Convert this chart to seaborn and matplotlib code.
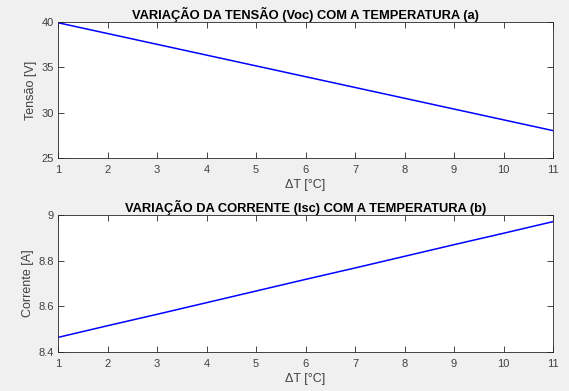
import matplotlib
matplotlib.use("Agg")
import matplotlib.pyplot as plt
import matplotlib.ticker as mticker
import seaborn as sns
import pandas as pd

# Temperature rise and module parameters
delta_t = [1, 2, 3, 4, 5, 6, 7, 8, 9, 10, 11]
voc = [39.92, 38.73, 37.54, 36.35, 35.16, 33.97, 32.78, 31.59, 30.40, 29.21, 28.02]
isc = [8.464, 8.515, 8.565, 8.616, 8.667, 8.718, 8.768, 8.819, 8.870, 8.920, 8.971]

titles = ["VARIAÇÃO DA TENSÃO (Voc) COM A TEMPERATURA (a)",
          "VARIAÇÃO DA CORRENTE (Isc) COM A TEMPERATURA (b)"]
ylabels = ["Tensão [V]", "Corrente [A]"]
xlabel = "ΔT [°C]"
yticks = [[25, 30, 35, 40], [8.4, 8.6, 8.8, 9.0]]
ylims = [(25, 40), (8.4, 9.0)]

sns.set_style("ticks")
plt.rcParams["font.family"] = ["Liberation Sans", "DejaVu Sans"]

df = pd.DataFrame({"dT": delta_t, "Voc": voc, "Isc": isc})

fig = plt.figure(figsize=(5.69, 3.91), dpi=100, facecolor="#F0F0F0")
W, H = 569, 391
boxes = [(58, 22, 553, 158), (58, 215, 553, 352)]
cols = ["Voc", "Isc"]
axis_col = "#262626"
label_col = "#404040"

for i, (x0, y0, x1, y1) in enumerate(boxes):
    ax = fig.add_axes([x0 / W, 1 - y1 / H, (x1 - x0) / W, (y1 - y0) / H])
    sns.lineplot(data=df, x="dT", y=cols[i], ax=ax, color="#0000FF", linewidth=1.1)
    ax.set_xlim(1, 11)
    ax.set_ylim(*ylims[i])
    ax.set_xticks(delta_t)
    ax.set_yticks(yticks[i])
    ax.yaxis.set_major_formatter(mticker.FormatStrFormatter("%g"))
    ax.tick_params(direction="in", top=True, right=True, length=4, width=0.6,
                   color=axis_col, labelcolor=label_col, labelsize=8)
    ax.tick_params(axis="x", pad=5)
    ax.tick_params(axis="y", pad=3)
    for s in ax.spines.values():
        s.set_color(axis_col)
        s.set_linewidth(0.6)
        s.set_visible(True)
    ax.set_facecolor("white")
    ax.set_title(titles[i], fontsize=9.3, fontweight="bold", color="black", pad=2)
    ax.set_xlabel(xlabel, fontsize=9, color=label_col, labelpad=3)
    ax.set_ylabel(ylabels[i], fontsize=9, color=label_col, labelpad=3)

fig.savefig("out.png", dpi=100, facecolor=fig.get_facecolor())
